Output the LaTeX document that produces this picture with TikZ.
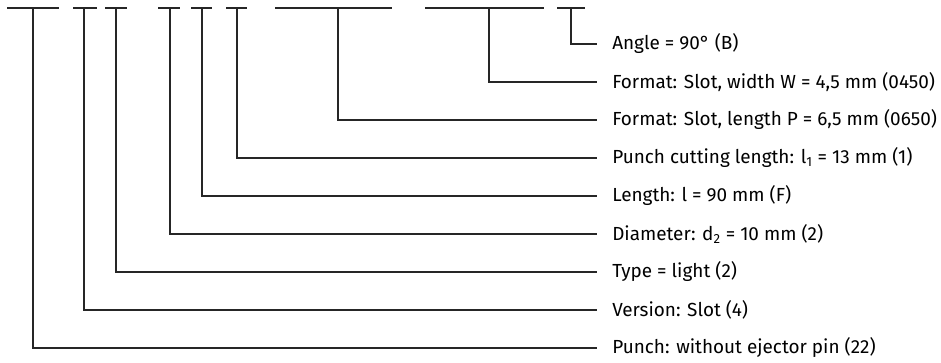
\documentclass[tikz,border=0pt]{standalone}
\usepackage{fontspec}
\setmainfont{Fira Sans}
\usepackage{tikz}
\usetikzlibrary{positioning}

\begin{document}
\begin{tikzpicture}[x=0.75pt, y=-0.75pt]
    \tikzset{lbl/.style = {anchor=west, inner sep=0pt, font=\fontsize{14.2}{16}\selectfont}}
    \tikzset{lead/.style = {line width=0.9pt, black!85}}
    \useasboundingbox (0,0) rectangle (941,363);
    % labels
    \node[lbl] (angle) at (612,44) {Angle = 90° (B)};
    \node[lbl] (width) at (612,82) {Format: Slot, width W = 4,5 mm (0450)};
    \node[lbl] (slotlen) at (612,120) {Format: Slot, length P = 6,5 mm (0650)};
    \node[lbl] (cutlen) at (612,158) {Punch cutting length: l\textsubscript{1} = 13 mm (1)};
    \node[lbl] (len) at (612,196) {Length: l = 90 mm (F)};
    \node[lbl] (diam) at (612,234) {Diameter: d\textsubscript{2} = 10 mm (2)};
    \node[lbl] (type) at (612,272) {Type = light (2)};
    \node[lbl] (version) at (612,310) {Version: Slot (4)};
    \node[lbl] (punch) at (612,348) {Punch: without ejector pin (22)};
    % code positions
    \coordinate (punchT) at (33,8);
    \coordinate (versionT) at (84,8);
    \coordinate (typeT) at (116,8);
    \coordinate (diamT) at (170,8);
    \coordinate (lenT) at (202,8);
    \coordinate (cutlenT) at (237,8);
    \coordinate (slotlenT) at (338,8);
    \coordinate (widthT) at (489,8);
    \coordinate (angleT) at (571,8);
    % bars
    \draw[lead] (7,8) -- (59,8);
    \draw[lead] (73,8) -- (97,8);
    \draw[lead] (105,8) -- (127,8);
    \draw[lead] (158,8) -- (180,8);
    \draw[lead] (191,8) -- (212,8);
    \draw[lead] (226,8) -- (247,8);
    \draw[lead] (275,8) -- (392,8);
    \draw[lead] (425,8) -- (544,8);
    \draw[lead] (557,8) -- (585,8);
    % leaders
    \draw[lead] (punchT) |- ([xshift=-11.25pt]punch.west);
    \draw[lead] (versionT) |- ([xshift=-11.25pt]version.west);
    \draw[lead] (typeT) |- ([xshift=-11.25pt]type.west);
    \draw[lead] (diamT) |- ([xshift=-11.25pt]diam.west);
    \draw[lead] (lenT) |- ([xshift=-11.25pt]len.west);
    \draw[lead] (cutlenT) |- ([xshift=-11.25pt]cutlen.west);
    \draw[lead] (slotlenT) |- ([xshift=-11.25pt]slotlen.west);
    \draw[lead] (widthT) |- ([xshift=-11.25pt]width.west);
    \draw[lead] (angleT) |- ([xshift=-11.25pt]angle.west);
\end{tikzpicture}
\end{document}
